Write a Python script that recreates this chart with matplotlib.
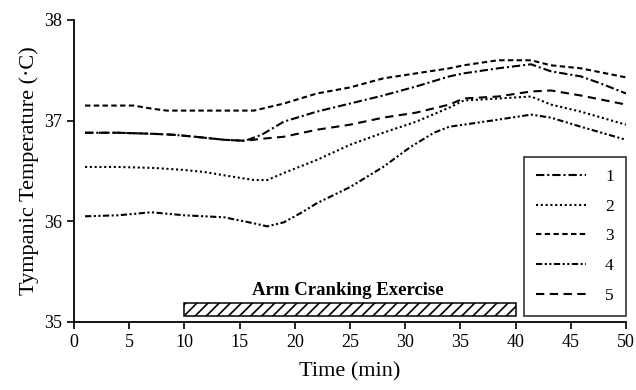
import matplotlib
matplotlib.use("Agg")
import matplotlib.pyplot as plt

plt.rcParams['font.family'] = ['Liberation Serif', 'DejaVu Serif']

# Data
time_1 = [1, 4, 7, 9, 11, 13.6, 15.5, 17, 19, 22, 25, 28, 31, 34, 35.3, 38.4, 41.4, 43.2, 45.9, 47.7, 50]
temp_1 = [36.88, 36.88, 36.87, 36.86, 36.84, 36.81, 36.80, 36.86, 36.99, 37.09, 37.17, 37.25, 37.34, 37.44,
          37.47, 37.52, 37.56, 37.49, 37.44, 37.37, 37.27]

time_2 = [1, 4, 7.3, 10, 11.8, 14, 16.3, 17.5, 19, 22, 25, 28, 31, 34, 35.3, 38.4, 41.4, 43.2, 45.9, 50]
temp_2 = [36.54, 36.54, 36.53, 36.51, 36.49, 36.45, 36.41, 36.41, 36.48, 36.61, 36.76, 36.88, 36.99, 37.13,
          37.20, 37.22, 37.24, 37.16, 37.09, 36.96]

time_3 = [1, 3, 5.4, 7, 8.4, 12, 16.3, 19, 22, 25, 28, 31, 34, 35.3, 38.4, 41.4, 43.2, 45.9, 50]
temp_3 = [37.15, 37.15, 37.15, 37.12, 37.10, 37.10, 37.10, 37.17, 37.27, 37.33, 37.42, 37.47, 37.52,
          37.55, 37.60, 37.60, 37.55, 37.52, 37.43]

time_4 = [1, 4, 7, 10, 13.6, 16.3, 17.5, 19, 20.5, 22, 25, 28, 30.5, 32.6, 34, 35.3, 38.4, 41.4, 43.2, 45.9, 50]
temp_4 = [36.05, 36.06, 36.09, 36.06, 36.04, 35.98, 35.95, 35.99, 36.08, 36.18, 36.34, 36.54, 36.74,
          36.88, 36.94, 36.96, 37.01, 37.06, 37.03, 36.94, 36.81]

time_5 = [1, 4, 7, 9, 11, 13.6, 15.5, 17, 19, 22, 25, 28, 31, 34, 35.3, 38.4, 41.4, 43.2, 45.9, 50]
temp_5 = [36.88, 36.88, 36.87, 36.86, 36.84, 36.81, 36.80, 36.82, 36.84, 36.91, 36.96, 37.03, 37.08, 37.16,
          37.22, 37.24, 37.29, 37.30, 37.25, 37.16]

series_labels = ["1", "2", "3", "4", "5"]
exercise_start, exercise_end = 10, 40
exercise_label = "Arm Cranking Exercise"

x_ticks = [0, 5, 10, 15, 20, 25, 30, 35, 40, 45, 50]
y_ticks = [35, 36, 37, 38]

fig = plt.figure(figsize=(6.36, 3.9), dpi=100)
ax = fig.add_axes([74/636, (390-322)/390, (626-74)/636, (322-20)/390])

styles = [
    (0, (4, 1.4, 1, 1.4)),
    (0, (1, 1.3)),
    (0, (2.6, 1.6)),
    (0, (3, 1.2, 1, 1.2, 1, 1.2)),
    (0, (4, 2.6)),
]
xs = [time_1, time_2, time_3, time_4, time_5]
ys = [temp_1, temp_2, temp_3, temp_4, temp_5]
for x, y, ls, lab in zip(xs, ys, styles, series_labels):
    ax.plot(x, y, color='black', linestyle=ls, linewidth=1.5, label=lab, dash_capstyle='butt')

plt.rcParams['hatch.linewidth'] = 1.2
ax.bar(exercise_start, 0.13, width=exercise_end - exercise_start, bottom=35.06, align='edge',
       facecolor='white', edgecolor='black', linewidth=1.1, hatch='///')
ax.text((exercise_start + exercise_end) / 2 - 0.2, 35.31, exercise_label, ha='center', va='center',
        fontsize=13.5, fontweight='bold')

ax.set_xlim(0, 50)
ax.set_ylim(35, 38)
ax.set_xticks(x_ticks)
ax.set_yticks(y_ticks)
ax.tick_params(direction='out', length=5, width=1.2, labelsize=13, colors='black')
for s in ['top', 'right']:
    ax.spines[s].set_visible(False)
for s in ['left', 'bottom']:
    ax.spines[s].set_linewidth(1.3)

ax.set_xlabel("Time (min)", fontsize=16, labelpad=8)
ax.set_ylabel("Tympanic Temperature (·C)", fontsize=16, labelpad=4)

leg = ax.legend(loc='lower right', bbox_to_anchor=(1.0, 0.02), fontsize=12.5, frameon=True,
                fancybox=False, edgecolor='black', handlelength=2.9, handletextpad=1.1,
                labelspacing=0.78, borderpad=0.7, borderaxespad=0.0)
leg.get_frame().set_linewidth(1.2)

fig.savefig("out.png", dpi=100)
